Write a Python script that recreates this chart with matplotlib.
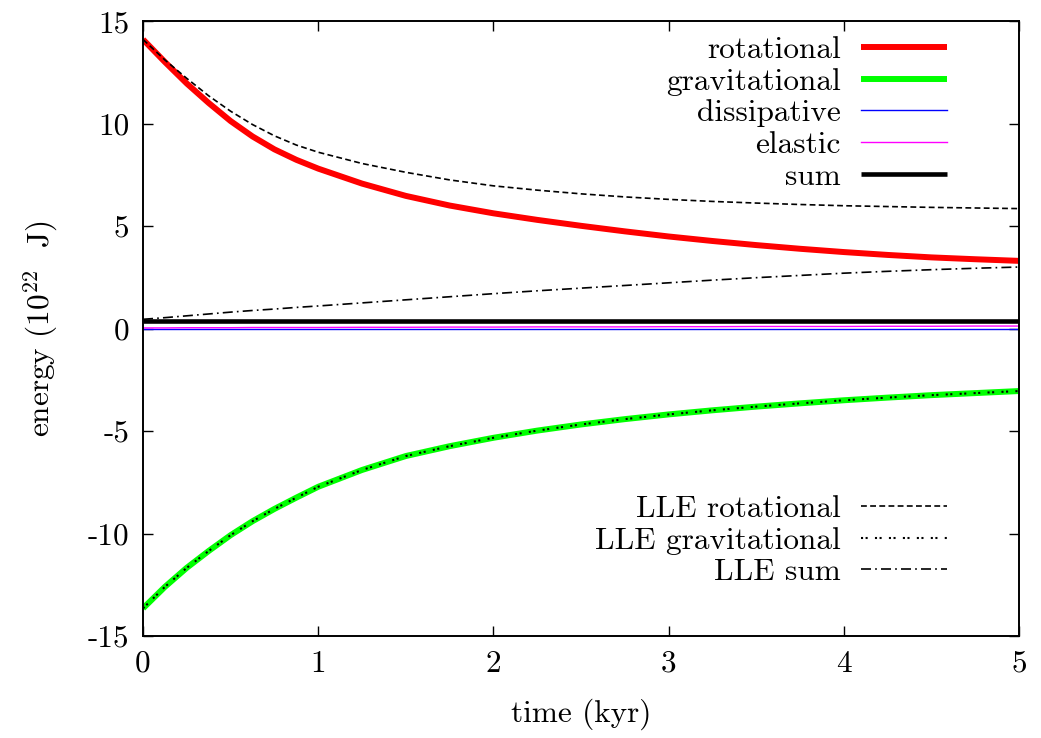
import matplotlib
matplotlib.use('Agg')
import matplotlib.pyplot as plt
import numpy as np

# PARAMS ----------------------------------------------------------------------
plt.rcParams['font.family'] = ['cmr10', 'DejaVu Serif']
plt.rcParams['mathtext.fontset'] = 'cm'
plt.rcParams['axes.unicode_minus'] = False
FS = 22.5
plt.rcParams['font.size'] = FS

# DATA (energy in 1e22 J) -----------------------------------------------------
time_kyr = [0, 0.125, 0.25, 0.375, 0.5, 0.625, 0.75, 0.875, 1,
            1.25, 1.5, 1.75, 2, 2.25, 2.5, 2.75, 3, 3.25, 3.5, 3.75,
            4, 4.25, 4.5, 4.75, 5]
rotational = [14.1, 13.0, 11.95, 11.0, 10.12, 9.37, 8.74, 8.23, 7.8,
              7.07, 6.47, 6.0, 5.62, 5.3, 5.01, 4.74, 4.49, 4.27, 4.07, 3.89,
              3.73, 3.59, 3.47, 3.38, 3.3]
gravitational = [-13.65, -12.6, -11.67, -10.85, -10.08, -9.4, -8.8, -8.25,
                 -7.72, -6.9, -6.22, -5.74, -5.33, -4.98, -4.68, -4.42, -4.19,
                 -3.99, -3.81, -3.65, -3.5, -3.37, -3.25, -3.15, -3.05]
dissipative = [0.0] * 25
elastic = [0.03, 0.03, 0.04, 0.04, 0.04, 0.05, 0.05, 0.05, 0.05,
           0.06, 0.06, 0.07, 0.07, 0.08, 0.08, 0.08, 0.09, 0.09, 0.1, 0.1,
           0.1, 0.11, 0.11, 0.12, 0.12]
energy_sum = [0.37] * 25
lle_rotational = [14.1, 13.1, 12.2, 11.35, 10.6, 9.95, 9.4, 8.95, 8.6,
                  8.05, 7.62, 7.25, 6.96, 6.75, 6.57, 6.42, 6.3, 6.2, 6.12,
                  6.05, 5.99, 5.95, 5.91, 5.88, 5.85]
lle_gravitational = [-13.65, -12.6, -11.67, -10.85, -10.08, -9.4, -8.8, -8.25,
                     -7.72, -6.9, -6.22, -5.74, -5.33, -4.98, -4.68, -4.42,
                     -4.19, -3.99, -3.81, -3.65, -3.5, -3.37, -3.25, -3.15,
                     -3.05]
lle_sum = [0.45, 0.53, 0.62, 0.71, 0.8, 0.88, 0.95, 1.03, 1.1,
           1.25, 1.4, 1.55, 1.7, 1.84, 1.97, 2.1, 2.23, 2.36, 2.48, 2.59,
           2.7, 2.79, 2.87, 2.94, 3.0]

xticks = [0, 1, 2, 3, 4, 5]
yticks = [-15, -10, -5, 0, 5, 10, 15]
# END PARAMS ------------------------------------------------------------------

fig = plt.figure(figsize=(10.41, 7.38), dpi=100)
ax = fig.add_axes([0.1374, 0.1382, 0.8415, 0.8333])

l_rot, = ax.plot(time_kyr, rotational, color='#ff0000', lw=4.3,
                 solid_capstyle='butt', label='rotational', zorder=2)
l_grav, = ax.plot(time_kyr, gravitational, color='#00ff00', lw=4.3,
                  solid_capstyle='butt', label='gravitational', zorder=2)
l_dis, = ax.plot(time_kyr, dissipative, color='#0000ff', lw=1.0,
                 label='dissipative', zorder=2)
l_ela, = ax.plot(time_kyr, elastic, color='#ff00ff', lw=1.0,
                 label='elastic', zorder=2)
l_sum, = ax.plot(time_kyr, energy_sum, color='black', lw=3.3,
                 solid_capstyle='butt', label='sum', zorder=2)

m_rot, = ax.plot(time_kyr, lle_rotational, color='black', lw=1.2,
                 linestyle=(0, (3.5, 2)), label='LLE rotational', zorder=3)
m_grav, = ax.plot(time_kyr, lle_gravitational, color='black', lw=1.5,
                  linestyle=(0, (1, 1.2, 1, 3.5)), label='LLE gravitational',
                  zorder=3)
m_sum, = ax.plot(time_kyr, lle_sum, color='black', lw=1.2,
                 linestyle=(0, (6, 2.5, 1, 2.5)), label='LLE sum', zorder=3)

ax.set_xlim(0, 5)
ax.set_ylim(-15, 15)
ax.set_xticks(xticks)
ax.set_yticks(yticks)
ax.tick_params(direction='in', length=7, width=1.0, top=True, right=True,
               labelsize=FS)
ax.tick_params(axis='x', pad=10)
ax.tick_params(axis='y', pad=10)
for s in ax.spines.values():
    s.set_linewidth(1.4)

ax.set_xlabel('time (kyr)', fontsize=FS, labelpad=15)
ax.set_ylabel('energy (10$^{22}$  J)', fontsize=FS, labelpad=20)

leg_kw = dict(loc='upper right', bbox_transform=fig.transFigure,
              frameon=False, markerfirst=False, handlelength=2.75,
              handletextpad=0.65, labelspacing=0.12, borderpad=0,
              borderaxespad=0, fontsize=FS)
leg1 = ax.legend(handles=[l_rot, l_grav, l_dis, l_ela, l_sum],
                 bbox_to_anchor=(947 / 1041, 1 - 36 / 738), **leg_kw)
ax.add_artist(leg1)
leg2 = ax.legend(handles=[m_rot, m_grav, m_sum],
                 bbox_to_anchor=(947 / 1041, 1 - 495 / 738), **leg_kw)

fig.savefig('out.png', dpi=100)
